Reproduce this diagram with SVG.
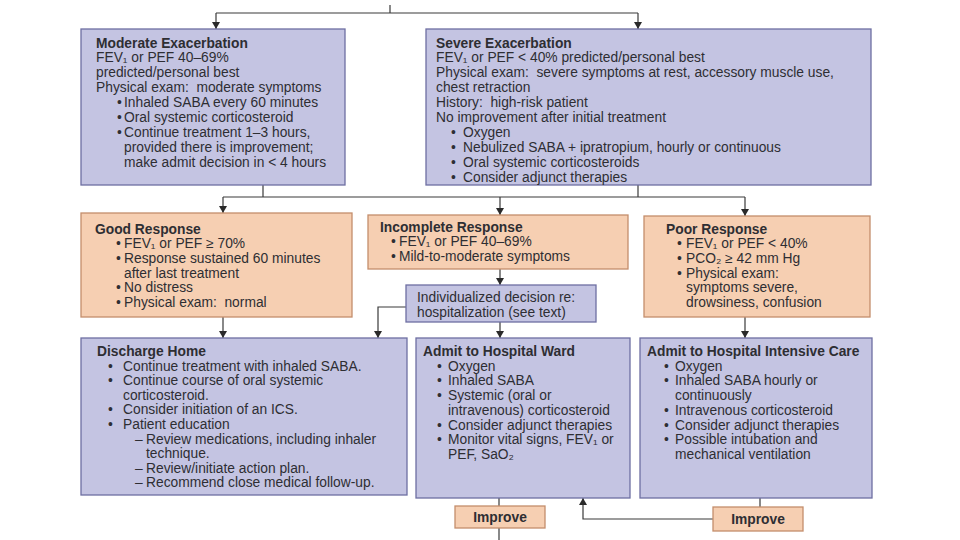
<svg xmlns="http://www.w3.org/2000/svg" width="960" height="540" viewBox="0 0 960 540">
<style>
.b{fill:#c4c4e2;stroke:#6e6fa2;stroke-width:1.3}
.o{fill:#f6cfb2;stroke:#c48e6c;stroke-width:1.3}
text{font-family:"Liberation Sans","DejaVu Sans",Arial,Helvetica,sans-serif;font-size:13.8px;fill:#2e2e33}
.h{font-weight:bold}
.c{fill:none;stroke:#3a3a3a;stroke-width:1.2}
</style>
<defs>
<marker id="ar" markerWidth="7" markerHeight="8" refX="7" refY="4" orient="auto" markerUnits="userSpaceOnUse">
<path d="M0,0 L7,4 L0,8 z" fill="#2a2a2a"/>
</marker>
</defs>
<rect width="960" height="540" fill="#ffffff"/>

<g id="connectors">
<path class="c" d="M390,5 V13"/>
<path class="c" d="M216,13 H638"/>
<path class="c" d="M216,13 V29" marker-end="url(#ar)"/>
<path class="c" d="M638,13 V29" marker-end="url(#ar)"/>
<path class="c" d="M263,185 V197"/>
<path class="c" d="M638,185 V197"/>
<path class="c" d="M223,197 H745"/>
<path class="c" d="M223,197 V213" marker-end="url(#ar)"/>
<path class="c" d="M500,197 V215" marker-end="url(#ar)"/>
<path class="c" d="M745,197 V216" marker-end="url(#ar)"/>
<path class="c" d="M500,269 V285" marker-end="url(#ar)"/>
<path class="c" d="M406,307 H378 V338" marker-end="url(#ar)"/>
<path class="c" d="M500,322 V338" marker-end="url(#ar)"/>
<path class="c" d="M223,317 V338" marker-end="url(#ar)"/>
<path class="c" d="M745,317 V338" marker-end="url(#ar)"/>
<path class="c" d="M499,498 V506"/>
<path class="c" d="M499,528 V540"/>
<path class="c" d="M760,498 V507"/>
<path class="c" d="M713,519 H583 V498" marker-end="url(#ar)"/>
</g>

<g id="moderate">
<rect class="b" x="81" y="29" width="264" height="156"/>
<text class="h" x="96" y="47.5">Moderate Exacerbation</text>
<text x="96" y="62.4">FEV₁ or PEF 40–69%</text>
<text x="96" y="77.3">predicted/personal best</text>
<text x="96" y="92.2">Physical exam: &#160;moderate symptoms</text>
<text x="117" y="107.1">•</text><text x="124" y="107.1">Inhaled SABA every 60 minutes</text>
<text x="117" y="122">•</text><text x="124" y="122">Oral systemic corticosteroid</text>
<text x="117" y="136.9">•</text><text x="124" y="136.9">Continue treatment 1–3 hours,</text>
<text x="124" y="151.8">provided there is improvement;</text>
<text x="124" y="166.7">make admit decision in &lt; 4 hours</text>
</g>

<g id="severe">
<rect class="b" x="426" y="29" width="445" height="156"/>
<text class="h" x="436" y="47.5">Severe Exacerbation</text>
<text x="436" y="62.4">FEV₁ or PEF &lt; 40% predicted/personal best</text>
<text x="436" y="77.3">Physical exam: &#160;severe symptoms at rest, accessory muscle use,</text>
<text x="436" y="92.2">chest retraction</text>
<text x="436" y="107.1">History: &#160;high-risk patient</text>
<text x="436" y="122">No improvement after initial treatment</text>
<text x="451" y="136.9">•</text><text x="463" y="136.9">Oxygen</text>
<text x="451" y="151.8">•</text><text x="463" y="151.8">Nebulized SABA + ipratropium, hourly or continuous</text>
<text x="451" y="166.7">•</text><text x="463" y="166.7">Oral systemic corticosteroids</text>
<text x="451" y="181.6">•</text><text x="463" y="181.6">Consider adjunct therapies</text>
</g>

<g id="good">
<rect class="o" x="81" y="213" width="271" height="104"/>
<text class="h" x="95" y="233.5">Good Response</text>
<text x="116" y="248.2">•</text><text x="124" y="248.2">FEV₁ or PEF ≥ 70%</text>
<text x="116" y="262.9">•</text><text x="124" y="262.9">Response sustained 60 minutes</text>
<text x="124" y="277.6">after last treatment</text>
<text x="116" y="292.3">•</text><text x="124" y="292.3">No distress</text>
<text x="116" y="307">•</text><text x="124" y="307">Physical exam: &#160;normal</text>
</g>

<g id="incomplete">
<rect class="o" x="368" y="215" width="260" height="54"/>
<text class="h" x="380" y="231.5">Incomplete Response</text>
<text x="391" y="246.2">•</text><text x="399" y="246.2">FEV₁ or PEF 40–69%</text>
<text x="391" y="260.9">•</text><text x="399" y="260.9">Mild-to-moderate symptoms</text>
</g>

<g id="decision">
<rect class="b" x="406" y="285" width="190" height="37"/>
<text x="417" y="301.5">Individualized decision re:</text>
<text x="417" y="317">hospitalization (see text)</text>
</g>

<g id="poor">
<rect class="o" x="644" y="216" width="226" height="101"/>
<text class="h" x="666" y="233.5">Poor Response</text>
<text x="677" y="248.2">•</text><text x="686" y="248.2">FEV₁ or PEF &lt; 40%</text>
<text x="677" y="262.9">•</text><text x="686" y="262.9">PCO₂ ≥ 42 mm Hg</text>
<text x="677" y="277.6">•</text><text x="686" y="277.6">Physical exam:</text>
<text x="686" y="292.3">symptoms severe,</text>
<text x="686" y="307">drowsiness, confusion</text>
</g>

<g id="discharge">
<rect class="b" x="81" y="338" width="326" height="157"/>
<text class="h" x="97" y="356">Discharge Home</text>
<text x="108" y="370.6">•</text><text x="123" y="370.6">Continue treatment with inhaled SABA.</text>
<text x="108" y="385.2">•</text><text x="123" y="385.2">Continue course of oral systemic</text>
<text x="123" y="399.8">corticosteroid.</text>
<text x="108" y="414.4">•</text><text x="123" y="414.4">Consider initiation of an ICS.</text>
<text x="108" y="429">•</text><text x="123" y="429">Patient education</text>
<text x="135" y="443.6">–</text><text x="146" y="443.6">Review medications, including inhaler</text>
<text x="146" y="458.2">technique.</text>
<text x="135" y="472.8">–</text><text x="146" y="472.8">Review/initiate action plan.</text>
<text x="135" y="487.4">–</text><text x="146" y="487.4">Recommend close medical follow-up.</text>
</g>

<g id="ward">
<rect class="b" x="416" y="338" width="214" height="160"/>
<text class="h" x="423" y="356">Admit to Hospital Ward</text>
<text x="437" y="370.7">•</text><text x="448" y="370.7">Oxygen</text>
<text x="437" y="385.4">•</text><text x="448" y="385.4">Inhaled SABA</text>
<text x="437" y="400.1">•</text><text x="448" y="400.1">Systemic (oral or</text>
<text x="448" y="414.8">intravenous) corticosteroid</text>
<text x="437" y="429.5">•</text><text x="448" y="429.5">Consider adjunct therapies</text>
<text x="437" y="444.2">•</text><text x="448" y="444.2">Monitor vital signs, FEV₁ or</text>
<text x="448" y="458.9">PEF, SaO₂</text>
</g>

<g id="icu">
<rect class="b" x="640" y="338" width="232" height="160"/>
<text class="h" x="647" y="356">Admit to Hospital Intensive Care</text>
<text x="664" y="370.7">•</text><text x="675" y="370.7">Oxygen</text>
<text x="664" y="385.4">•</text><text x="675" y="385.4">Inhaled SABA hourly or</text>
<text x="675" y="400.1">continuously</text>
<text x="664" y="414.8">•</text><text x="675" y="414.8">Intravenous corticosteroid</text>
<text x="664" y="429.5">•</text><text x="675" y="429.5">Consider adjunct therapies</text>
<text x="664" y="444.2">•</text><text x="675" y="444.2">Possible intubation and</text>
<text x="675" y="458.9">mechanical ventilation</text>
</g>

<g id="improve1">
<rect class="o" x="455" y="506" width="90" height="22"/>
<text class="h" x="500" y="522" text-anchor="middle">Improve</text>
</g>

<g id="improve2">
<rect class="o" x="713" y="507" width="90" height="24"/>
<text class="h" x="758" y="524" text-anchor="middle">Improve</text>
</g>
</svg>
